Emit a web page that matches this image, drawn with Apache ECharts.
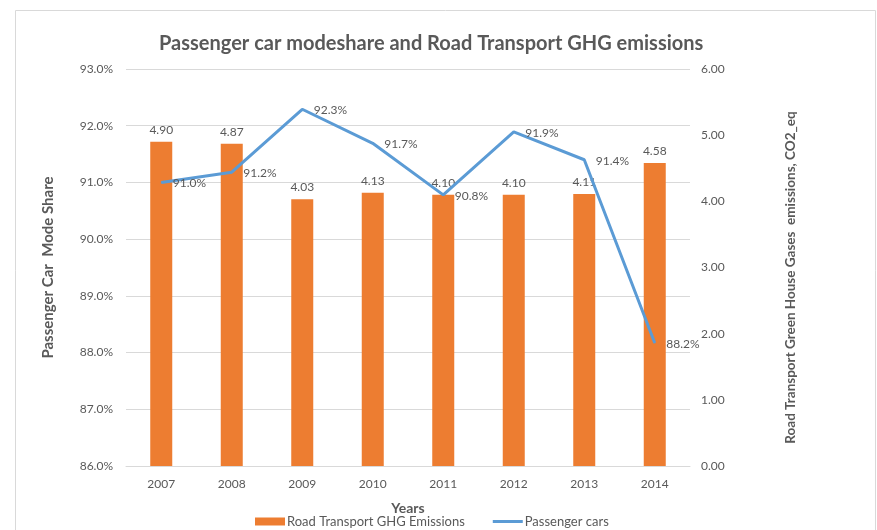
<!DOCTYPE html>
<html>
<head>
<meta charset="utf-8">
<script src="https://cdn.jsdelivr.net/npm/echarts@6/dist/echarts.min.js"></script>
<style>
  html, body { margin: 0; padding: 0; background: #fff; }
  #chart { width: 877px; height: 530px; }
</style>
</head>
<body>
<div id="chart"></div>
<script>
const years = ["2007", "2008", "2009", "2010", "2011", "2012", "2013", "2014"];
const ghgEmissions = [4.90, 4.87, 4.03, 4.13, 4.10, 4.10, 4.11, 4.58];
const carModeShare = [91.0, 91.18, 92.29, 91.69, 90.78, 91.89, 91.40, 88.17];

const font = "Lato, 'Open Sans', sans-serif";
const textGray = "#595959";

const chart = echarts.init(document.getElementById("chart"));
chart.setOption({
  animation: false,
  textStyle: { fontFamily: font },
  graphic: [
    {
      type: "rect",
      shape: { x: 15.5, y: 10.5, width: 860, height: 540 },
      style: { fill: "none", stroke: "#d9d9d9", lineWidth: 1 },
    },
  ],
  title: {
    text: "Passenger car modeshare and Road Transport GHG emissions",
    left: 154,
    top: 29,
    textStyle: { fontFamily: font, fontSize: 20, fontWeight: "bold", color: textGray },
  },
  legend: {
    bottom: -3,
    left: 250,
    itemGap: 28,
    itemWidth: 30,
    itemHeight: 8,
    textStyle: { fontFamily: font, fontSize: 13, color: textGray, padding: [0, 0, 0, -3] },
    data: [
      { name: "Road Transport GHG Emissions", icon: "rect" },
      { name: "Passenger cars", icon: "path://M0,0H30V3H0Z" },
    ],
  },
  grid: { left: 126, right: 187, top: 69, bottom: 64 },
  xAxis: {
    type: "category",
    data: years,
    name: "Years",
    nameLocation: "middle",
    nameGap: 35,
    nameTextStyle: { fontSize: 14, fontWeight: "bold", color: textGray },
    axisLine: { lineStyle: { color: "#d9d9d9" } },
    axisTick: { show: false },
    axisLabel: { color: textGray, fontSize: 12, margin: 12 },
  },
  yAxis: [
    {
      type: "value",
      min: 86,
      max: 93,
      interval: 1,
      name: "Passenger Car  Mode Share",
      nameLocation: "middle",
      nameRotate: 90,
      nameGap: 70,
      nameTextStyle: { fontSize: 15, fontWeight: "bold", color: textGray },
      axisLine: { show: false },
      axisTick: { show: false },
      axisLabel: { color: textGray, fontSize: 12, margin: 13, formatter: (v) => v.toFixed(1) + "%" },
      splitLine: { lineStyle: { color: "#d9d9d9" } },
    },
    {
      type: "value",
      min: 0,
      max: 6,
      interval: 1,
      name: "Road Transport Green House Gases  emissions, CO2_eq",
      nameLocation: "middle",
      nameRotate: 90,
      nameGap: 94,
      nameTextStyle: { fontSize: 13.5, fontWeight: "bold", color: textGray, padding: [0, 20, 0, 0] },
      axisLine: { show: false },
      axisTick: { show: false },
      axisLabel: { color: textGray, fontSize: 12, margin: 11, formatter: (v) => v.toFixed(2) },
      splitLine: { show: false },
    },
  ],
  series: [
    {
      name: "Road Transport GHG Emissions",
      type: "bar",
      yAxisIndex: 1,
      data: ghgEmissions,
      barWidth: 22,
      itemStyle: { color: "#ED7D31" },
      label: {
        show: true,
        position: "top",
        distance: 6,
        color: textGray,
        fontSize: 12,
        formatter: (p) => p.value.toFixed(2),
      },
    },
    {
      name: "Passenger cars",
      type: "line",
      yAxisIndex: 0,
      data: carModeShare,
      symbol: "circle",
      symbolSize: 1,
      showSymbol: true,
      lineStyle: { color: "#5B9BD5", width: 3 },
      itemStyle: { color: "#5B9BD5" },
      label: {
        show: true,
        position: "right",
        distance: 11,
        offset: [0, 1],
        color: textGray,
        fontSize: 12,
        formatter: (p) => p.value.toFixed(1) + "%",
      },
    },
  ],
});
</script>
</body>
</html>
